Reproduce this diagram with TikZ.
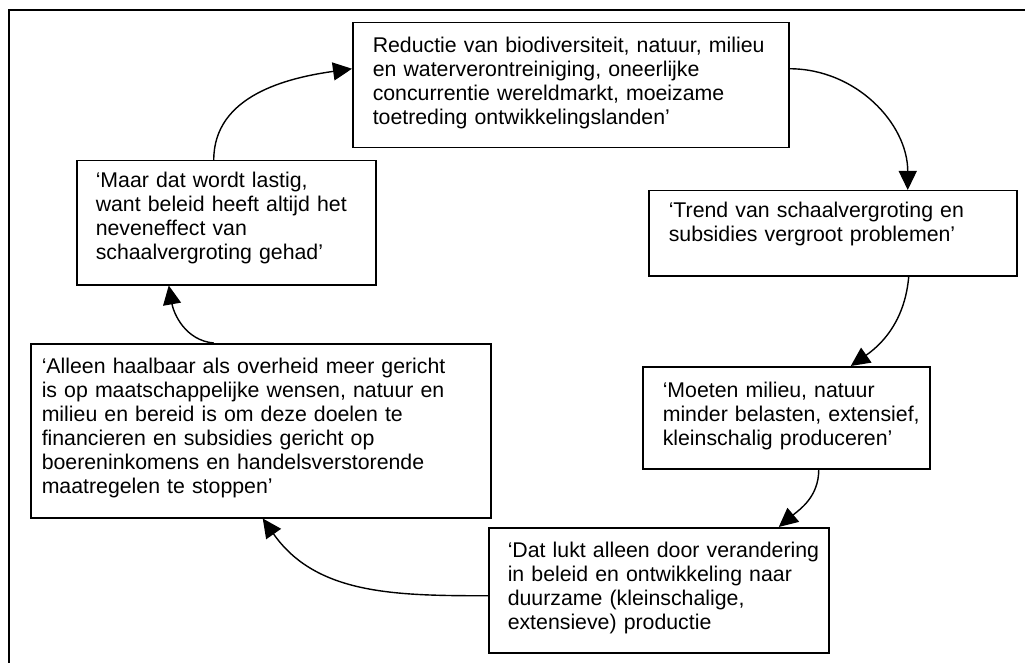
\documentclass[tikz,border=0pt]{standalone}
\usepackage{fontspec}
\setmainfont{Liberation Sans}
\usetikzlibrary{arrows.meta}

\tikzset{
  quote/.style={draw, line width=1.5pt, anchor=north west, inner sep=0pt,
    align=left, font=\fontsize{21.3}{24}\selectfont,
    execute at begin node={\leftskip=#1pt\relax}},
  quote/.default=20,
  flow/.style={line width=1.4pt, -{Triangle[length=19pt,width=18pt]}}
}

\begin{document}
\begin{tikzpicture}[x=1pt,y=-1pt]
  \useasboundingbox (0,0) rectangle (1025,663);
  \draw[line width=2pt] (9,663) |- (1025,10);

  \draw (352,22) node[quote, text width=436pt, text height=30pt, text depth=95pt] (reductie)
    {Reductie van biodiversiteit, natuur, milieu\\en waterverontreiniging, oneerlijke\\concurrentie wereldmarkt, moeizame\\toetreding ontwikkelingslanden’};
  \draw (648,190) node[quote, text width=368pt, text height=27pt, text depth=58pt] (trend)
    {‘Trend van schaalvergroting en\\subsidies vergroot problemen’};
  \draw (642,366) node[quote, text width=287pt, text height=31pt, text depth=71pt] (moeten)
    {‘Moeten milieu, natuur\\minder belasten, extensief,\\kleinschalig produceren’};
  \draw (488,527) node[quote=19, text width=340pt, text height=30pt, text depth=95pt] (dat)
    {‘Dat lukt alleen door verandering\\in beleid en ontwikkeling naar\\duurzame (kleinschalige,\\extensieve) productie};
  \draw (30,343) node[quote=11, text width=460pt, text height=30pt, text depth=144pt] (alleen)
    {‘Alleen haalbaar als overheid meer gericht\\is op maatschappelijke wensen, natuur en\\milieu en bereid is om deze doelen te\\financieren en subsidies gericht op\\boereninkomens en handelsverstorende\\maatregelen te stoppen’};
  \draw (76,160) node[quote=19, text width=299pt, text height=27pt, text depth=97pt] (maar)
    {‘Maar dat wordt lastig,\\want beleid heeft altijd het\\neveneffect van\\schaalvergroting gehad’};

  \path[flow] ([xshift=-12.5pt]maar.north) edge[out=90,in=188] ([yshift=16.5pt]reductie.west);
  \path[flow] ([yshift=16.5pt]reductie.east) edge[out=0,in=90] ([xshift=75pt]trend.north);
  \path[flow] ([xshift=76pt]trend.south) edge[out=-95,in=35] ([xshift=64.5pt]moeten.north);
  \path[flow] ([xshift=32.5pt]moeten.south) edge[out=-90,in=40] ([xshift=120pt]dat.north);
  \path[flow] ([yshift=-5.5pt]dat.west) edge[out=180,in=-55] ([xshift=2pt]alleen.south);
  \path[flow] ([xshift=-47pt]alleen.north) edge[out=175,in=-80] ([xshift=-57.5pt]maar.south);
\end{tikzpicture}
\end{document}
